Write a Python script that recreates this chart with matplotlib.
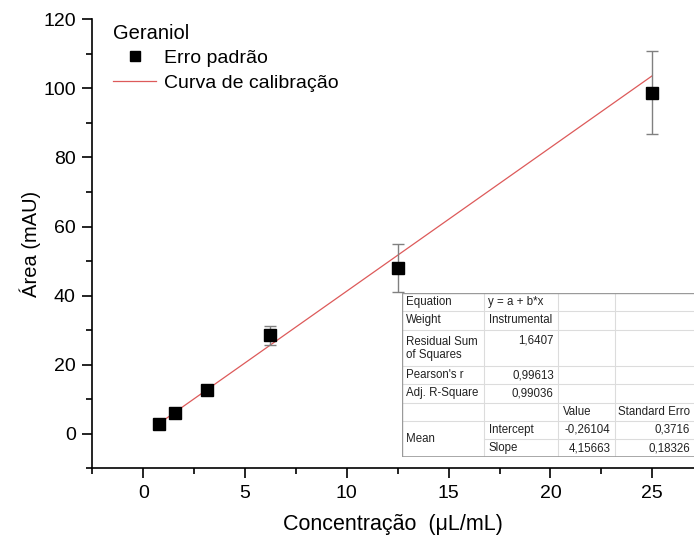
import numpy as np
import matplotlib
matplotlib.use('Agg')
import matplotlib.pyplot as plt
from matplotlib.lines import Line2D

plt.rcParams['font.family'] = ['Liberation Sans', 'DejaVu Sans']

# calibration data
conc = [0.78, 1.56, 3.125, 6.25, 12.5, 25]
area = [2.9, 6.1, 12.8, 28.5, 48.0, 98.8]
err = [0.6, 0.8, 1.0, 2.7, 7.0, 12.1]

# linear fit
intercept = -0.26104
slope = 4.15663

# fit report table (last column is cut at the picture edge in the original)
tab_col0 = ['Equation', 'Weight', 'Residual Sum\nof Squares', "Pearson's r", 'Adj. R-Square', '', 'Mean']
tab_col1 = ['y = a + b*x', 'Instrumental', '1,6407', '0,99613', '0,99036', '', 'Intercept', 'Slope']
tab_hdr = ['Value', 'Standard Erro']
tab_value = ['-0,26104', '4,15663']
tab_stderr = ['0,3716', '0,18326']

W, H = 694, 539
fig = plt.figure(figsize=(W / 100, H / 100), dpi=100)
ax = fig.add_axes([92.3 / W, (H - 468.3) / H, 1 - 92.3 / W, (468.3 - 19.3) / H])

xfit = np.array([conc[0], conc[-1]])
ax.plot(xfit, intercept + slope * xfit, color='#dd5a5a', lw=0.9, zorder=2)
ax.errorbar(conc, area, yerr=err, fmt='none', ecolor='#808080', elinewidth=1.0,
            capsize=4.5, capthick=1.0, zorder=3)
ax.plot(conc, area, 's', color='black', ms=8, zorder=4)

ax.set_xlim(-2.5, 27.05)
ax.set_ylim(-10, 120)
ax.set_xticks([0, 5, 10, 15, 20, 25])
ax.set_xticks(np.arange(-2.5, 27.5, 2.5), minor=True)
ax.set_yticks([0, 20, 40, 60, 80, 100, 120])
ax.set_yticks(np.arange(-10, 120, 10), minor=True)
for s in ['top', 'right']:
    ax.spines[s].set_visible(False)
for s in ['left', 'bottom']:
    ax.spines[s].set_linewidth(1.2)
ax.tick_params(which='major', direction='out', length=7, width=1.2, labelsize=14, pad=5)
ax.tick_params(which='minor', direction='out', length=4, width=1.2)

ax.set_xlabel('Concentração  (\u03bcL/mL)', fontsize=15.5, labelpad=9)
ax.set_ylabel('Área (mAU)', fontsize=14.5, labelpad=1.5)

handles = [Line2D([], [], marker='s', ls='none', color='black', ms=7.5),
           Line2D([], [], color='#dd5a5a', lw=0.9)]
leg = ax.legend(handles, ['Erro padrão', 'Curva de calibração'], title='Geraniol',
                loc='upper left', bbox_to_anchor=(0.035, 0.99), frameon=False,
                fontsize=14, title_fontsize=14.5, handlelength=2.2, handletextpad=0.4,
                labelspacing=0.35, borderaxespad=0.0, borderpad=0.0)
leg._legend_box.align = 'left'

# table drawn in its own axes (pixel columns, row units)
tx0, ty0, ty1 = 401.7, 293.0, 457.3
cols = [0, 82.3, 156.6, 213.3, 300]
tab = fig.add_axes([tx0 / W, (H - ty1) / H, 300 / W, (ty1 - ty0) / H])
tab.set_xlim(0, 300)
tab.set_ylim(9, 0)
tab.axis('off')
tab.add_patch(plt.Rectangle((0, 0), 300, 9, facecolor='white', edgecolor='none', zorder=0))
inner = '#dcdcdc'
outer = '#9a9a9a'
row_edges = [0, 1, 2, 4, 5, 6, 7, 8, 9]
for r in row_edges[1:-1]:
    x_start = cols[1] if r == 8 else 0
    tab.plot([x_start, 300], [r, r], color=inner, lw=0.8)
for c in cols[1:]:
    tab.plot([c, c], [0, 9], color=inner, lw=0.8)
tab.plot([0, 300], [0, 0], color=outer, lw=1.0)
tab.plot([0, 300], [9, 9], color=outer, lw=1.2)
tab.plot([0, 0], [0, 9], color=outer, lw=1.0)

fs = 8.3
tc = '#222222'
pad = 4.5
row_mid0 = [0.5, 1.5, 2.5, 4.5, 5.5, 6.5, 8.0]
for lab, ym in zip(tab_col0, row_mid0):
    if '\n' in lab:
        a, b = lab.split('\n')
        tab.text(pad, 2.68, a, fontsize=fs, color=tc, va='center')
        tab.text(pad, 3.42, b, fontsize=fs, color=tc, va='center')
    else:
        tab.text(pad, ym, lab, fontsize=fs, color=tc, va='center')
row_mid1 = [0.5, 1.5, 2.6, 4.5, 5.5, 6.5, 7.5, 8.5]
for lab, ym in zip(tab_col1, row_mid1):
    num = lab[:1].isdigit()
    if num:
        tab.text(cols[2] - pad, ym, lab, fontsize=fs, color=tc, va='center', ha='right')
    else:
        tab.text(cols[1] + pad, ym, lab, fontsize=fs, color=tc, va='center')
tab.text(cols[2] + pad, 6.5, tab_hdr[0], fontsize=fs, color=tc, va='center')
tab.text(cols[3] + 3.5, 6.5, tab_hdr[1], fontsize=fs, color=tc, va='center')
for v, ym in zip(tab_value, [7.5, 8.5]):
    tab.text(cols[3] - pad, ym, v, fontsize=fs, color=tc, va='center', ha='right')
for v, ym in zip(tab_stderr, [7.5, 8.5]):
    tab.text(W - tx0 - 4, ym, v, fontsize=fs, color=tc, va='center', ha='right')

fig.savefig('out.png', dpi=100)
